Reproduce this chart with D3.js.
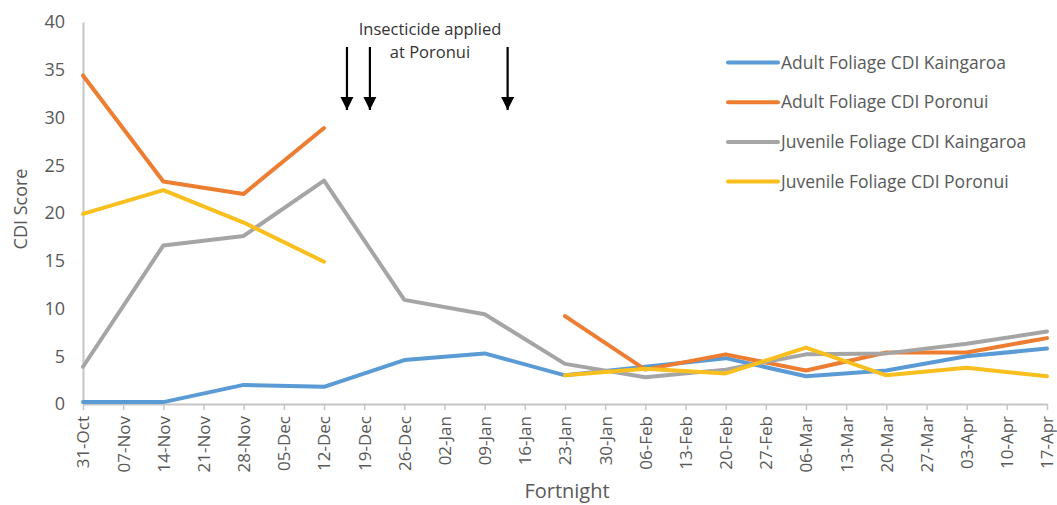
<!DOCTYPE html>
<html>
<head>
<meta charset="utf-8">
<script src="https://cdn.jsdelivr.net/npm/d3@7"></script>
<style>
  html, body { margin: 0; padding: 0; background: #fff; }
  svg { display: block; font-family: "Open Sans", sans-serif; }
</style>
</head>
<body>
<svg id="chart" width="1057" height="505"></svg>
<script>
// ---- data ----
const fortnights = ["2016-10-31","2016-11-14","2016-11-28","2016-12-12","2016-12-26","2017-01-09",
  "2017-01-23","2017-02-06","2017-02-20","2017-03-06","2017-03-20","2017-04-03","2017-04-17"];
const adultKaingaroa    = [0.2, 0.2, 2.0, 1.8, 4.6, 5.3, 3.0, 3.9, 4.8, 2.9, 3.5, 5.0, 5.8];
const adultPoronui      = [34.4, 23.3, 22.0, 28.9, null, null, 9.2, 3.6, 5.2, 3.5, 5.4, 5.4, 6.9];
const juvenileKaingaroa = [3.9, 16.6, 17.6, 23.4, 10.9, 9.4, 4.2, 2.8, 3.6, 5.2, 5.3, 6.3, 7.6];
const juvenilePoronui   = [19.9, 22.4, 19.0, 14.9, null, null, 3.0, 3.7, 3.2, 5.9, 3.0, 3.8, 2.9];
const seriesNames = ["Adult Foliage CDI Kaingaroa","Adult Foliage CDI Poronui",
  "Juvenile Foliage CDI Kaingaroa","Juvenile Foliage CDI Poronui"];
const seriesColors = ["#5b9bd5","#ed7d31","#a5a5a5","#f8bf1e"];
const yTicks = [0,5,10,15,20,25,30,35,40];
const sprayDates = ["2016-12-16","2016-12-20","2017-01-13"];
const annotationLines = ["Insecticide applied","at Poronui"];

// ---- setup ----
const svg = d3.select("#chart");
const parse = d3.utcParse("%Y-%m-%d");
const dates = fortnights.map(parse);
const plotLeft = 83, plotRight = 1047, plotTop = 22, plotBottom = 404;

const x = d3.scaleUtc().domain([dates[0], dates[dates.length-1]]).range([plotLeft, plotRight]);
const y = d3.scaleLinear().domain([0, 40]).range([plotBottom, plotTop]);

const textColor = "#595959";
const axisColor = "#c6c6c6";

// y axis
const yAxis = svg.append("g").attr("transform", `translate(${plotLeft},0)`)
  .call(d3.axisLeft(y).tickValues(yTicks).tickSize(0).tickPadding(18));
yAxis.select(".domain").attr("stroke", axisColor).attr("stroke-width", 2);
yAxis.selectAll("text").attr("fill", textColor).style("font-size", "18px")
  .style("font-family", "'Open Sans', sans-serif");

// x axis
const weekTicks = d3.utcMonday.range(dates[0], d3.utcDay.offset(dates[dates.length-1], 1));
const xAxis = svg.append("g").attr("transform", `translate(0,${plotBottom})`)
  .call(d3.axisBottom(x).tickValues(weekTicks).tickFormat(d3.utcFormat("%d-%b")).tickSizeInner(6).tickSizeOuter(0));
xAxis.select(".domain").attr("stroke", axisColor).attr("stroke-width", 2);
xAxis.selectAll(".tick line").attr("stroke", axisColor).attr("stroke-width", 1.5);
xAxis.selectAll("text")
  .attr("fill", textColor).style("font-size", "17px")
  .style("font-family", "'Open Sans', sans-serif")
  .attr("text-anchor", "end")
  .attr("transform", "rotate(-90)")
  .attr("x", -12).attr("y", 0).attr("dy", "0.35em");

// axis titles
svg.append("text").attr("transform", "translate(27,209) rotate(-90)")
  .attr("text-anchor", "middle").attr("fill", textColor).style("font-size", "18px")
  .text("CDI Score");
svg.append("text").attr("x", 567).attr("y", 498)
  .attr("text-anchor", "middle").attr("fill", textColor).style("font-size", "20px")
  .text("Fortnight");

// lines
const allSeries = [adultKaingaroa, adultPoronui, juvenileKaingaroa, juvenilePoronui];
const line = d3.line()
  .defined(d => d.v !== null)
  .x(d => x(d.d)).y(d => y(d.v));
allSeries.forEach((vals, i) => {
  const pts = vals.map((v, j) => ({d: dates[j], v}));
  svg.append("path").datum(pts)
    .attr("fill", "none").attr("stroke", seriesColors[i])
    .attr("stroke-width", 4).attr("stroke-linejoin", "round").attr("stroke-linecap", "round")
    .attr("d", line);
});

// annotation arrows
const defs = svg.append("defs");
defs.append("marker").attr("id", "arrow").attr("viewBox", "0 0 10 10")
  .attr("refX", 10).attr("refY", 5).attr("markerWidth", 6).attr("markerHeight", 6)
  .attr("markerUnits", "strokeWidth").attr("orient", "auto")
  .append("path").attr("d", "M0,0 L10,5 L0,10 Z").attr("fill", "#000");
sprayDates.map(parse).forEach(d => {
  svg.append("line").attr("x1", x(d)).attr("x2", x(d)).attr("y1", 47).attr("y2", 110)
    .attr("stroke", "#000").attr("stroke-width", 2.2).attr("marker-end", "url(#arrow)");
});
annotationLines.forEach((t, i) => {
  svg.append("text").attr("x", 430).attr("y", 35 + i * 23)
    .attr("text-anchor", "middle").attr("fill", "#333333").style("font-size", "16.5px")
    .text(t);
});

// legend
const legend = svg.append("g");
seriesNames.forEach((name, i) => {
  const ly = 62.5 + i * 39.7;
  legend.append("line").attr("x1", 728).attr("x2", 778).attr("y1", ly).attr("y2", ly)
    .attr("stroke", seriesColors[i]).attr("stroke-width", 4).attr("stroke-linecap", "round");
  legend.append("text").attr("x", 781).attr("y", ly).attr("dy", "0.35em")
    .attr("fill", textColor).style("font-size", "17.5px").text(name);
});
</script>
</body>
</html>
